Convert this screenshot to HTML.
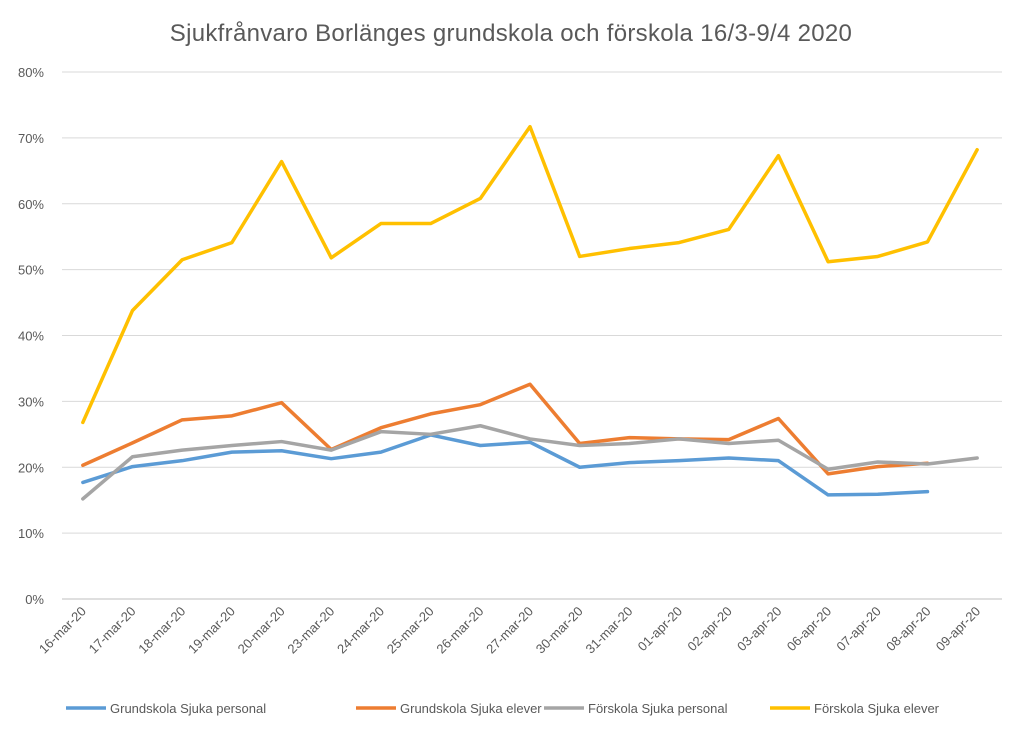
<!DOCTYPE html>
<html><head><meta charset="utf-8">
<style>
body{margin:0;background:#fff;}
svg{display:block;font-family:"Liberation Sans",sans-serif;}
</style></head>
<body>
<svg id="chart" width="1023" height="736" xmlns="http://www.w3.org/2000/svg">
<rect width="1023" height="736" fill="#fff"/>
<text x="511" y="41" text-anchor="middle" font-size="24" letter-spacing="0.3" fill="#595959">Sjukfrånvaro Borlänges grundskola och förskola 16/3-9/4 2020</text>
<g id="grid"></g><g id="xlabels"></g><g id="series"></g><g id="legend"></g>
</svg>
<script>
const categories=["16-mar-20","17-mar-20","18-mar-20","19-mar-20","20-mar-20","23-mar-20","24-mar-20","25-mar-20","26-mar-20","27-mar-20","30-mar-20","31-mar-20","01-apr-20","02-apr-20","03-apr-20","06-apr-20","07-apr-20","08-apr-20","09-apr-20"];
const grundPersonal=[17.7,20.1,21.0,22.3,22.5,21.3,22.3,24.9,23.3,23.8,20.0,20.7,21.0,21.4,21.0,15.8,15.9,16.3];
const grundElever=[20.3,23.7,27.2,27.8,29.8,22.7,26.0,28.1,29.5,32.6,23.6,24.5,24.3,24.2,27.4,19.0,20.1,20.6];
const forPersonal=[15.2,21.6,22.6,23.3,23.9,22.6,25.4,25.0,26.3,24.3,23.3,23.6,24.3,23.6,24.1,19.7,20.8,20.5,21.4];
const forElever=[26.8,43.8,51.5,54.1,66.4,51.8,57.0,57.0,60.8,71.7,52.0,53.2,54.1,56.1,67.3,51.2,52.0,54.2,68.2];
const yTicks=[0,10,20,30,40,50,60,70,80];
const seriesNames=["Grundskola Sjuka personal","Grundskola Sjuka elever","Förskola Sjuka personal","Förskola Sjuka elever"];

const NS="http://www.w3.org/2000/svg";
const L=58,R=1002,T=72,B=599;
const bw=(R-L)/categories.length;
const x=i=>L+bw*(i+0.5);
const y=v=>B-(v/80)*(B-T);
function mk(tag,attrs,parent){const e=document.createElementNS(NS,tag);for(const k in attrs)e.setAttribute(k,attrs[k]);parent.appendChild(e);return e;}
const grid=document.getElementById('grid');
yTicks.forEach(t=>{
  const ln=mk('line',{x1:62,x2:R,y1:y(t),y2:y(t),stroke:t===0?'#bfbfbf':'#d9d9d9','stroke-width':1},grid);
  
  
  const tx=mk('text',{x:44,y:y(t)+5,'text-anchor':'end','font-size':13,fill:'#595959'},grid);
  tx.textContent=t+'%';
  
  
});
const xl=document.getElementById('xlabels');
categories.forEach((c,i)=>{
  const tx=mk('text',{x:x(i)+4,y:612,'text-anchor':'end','font-size':13,fill:'#595959',transform:`rotate(-45 ${x(i)+4} 612)`},xl);
  tx.textContent=c;
  
  
});
const colors=["#5b9bd5","#ed7d31","#a5a5a5","#ffc000"];
const data=[grundPersonal,grundElever,forPersonal,forElever];
const sg=document.getElementById('series');
data.forEach((d,s)=>{
  const p=mk('polyline',{points:d.map((v,i)=>x(i)+','+y(v)).join(' '),fill:'none',stroke:colors[s],'stroke-width':3.5,'stroke-linejoin':'round','stroke-linecap':'round'},sg);
  
  
});
const lg=document.getElementById('legend');
const lx=[66,356,544,770];
seriesNames.forEach((n,s)=>{
  const g=mk('g',{},lg);
  
  
  mk('line',{x1:lx[s],x2:lx[s]+40,y1:708,y2:708,stroke:colors[s],'stroke-width':3.5},g);
  const t=mk('text',{x:lx[s]+44,y:713,'font-size':13,fill:'#595959'},g);
  t.textContent=n;
});
</script>
</body></html>
